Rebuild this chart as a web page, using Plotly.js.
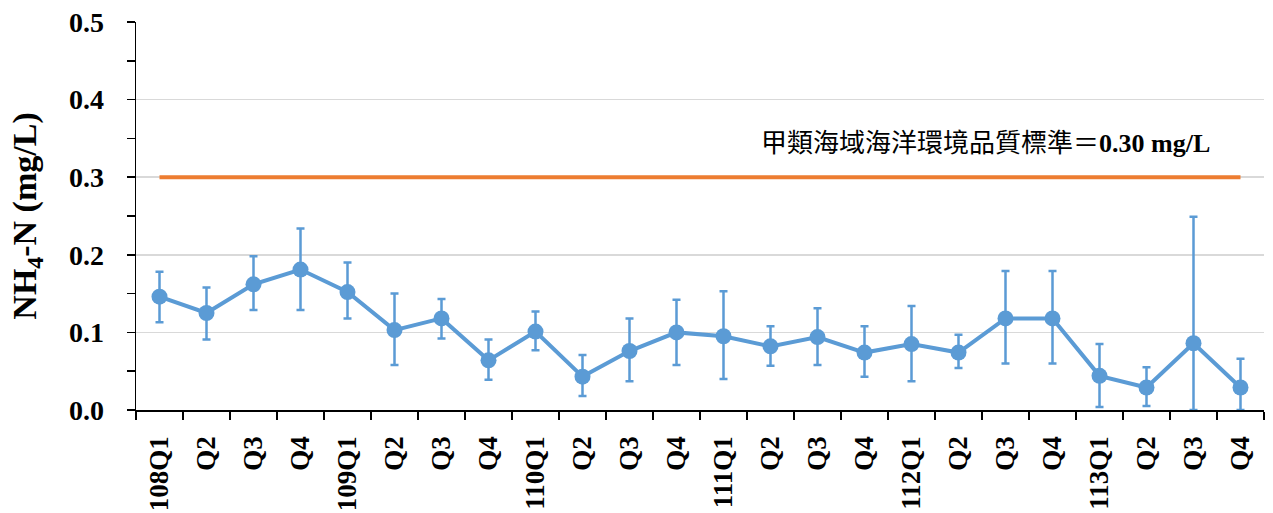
<!DOCTYPE html>
<html>
<head>
<meta charset="utf-8">
<script src="https://cdn.plot.ly/plotly-3.0.1.min.js"></script>
<style>
html,body{margin:0;padding:0;background:#fff;}
#chart{width:1273px;height:513px;}
</style>
</head>
<body>
<div id="chart"></div>
<script>
// ---- data ----
const tickLabels = ["108Q1","Q2","Q3","Q4","109Q1","Q2","Q3","Q4","110Q1","Q2","Q3","Q4",
                    "111Q1","Q2","Q3","Q4","112Q1","Q2","Q3","Q4","113Q1","Q2","Q3","Q4"];
const meanValues = [0.146,0.125,0.162,0.181,0.152,0.103,0.118,0.064,0.101,0.043,0.076,0.100,
                    0.095,0.082,0.094,0.074,0.085,0.074,0.118,0.118,0.044,0.029,0.086,0.029];
const upperValues = [0.178,0.158,0.198,0.234,0.190,0.150,0.143,0.091,0.127,0.071,0.118,0.142,
                     0.153,0.108,0.131,0.108,0.134,0.097,0.179,0.179,0.085,0.055,0.249,0.066];
const lowerValues = [0.113,0.091,0.129,0.129,0.118,0.058,0.092,0.039,0.077,0.018,0.037,0.058,
                     0.040,0.057,0.058,0.043,0.037,0.054,0.060,0.060,0.004,0.005,0.000,0.000];
const standardValue = 0.30;
const standardLabel = "甲類海域海洋環境品質標準＝<b>0.30 mg/L</b>";
const yTitle = "<b>NH<sub>4</sub>-N (mg/L)</b>";

// ---- build ----
const xIdx = tickLabels.map((_, i) => i);
const errPlus = upperValues.map((u, i) => u - meanValues[i]);
const errMinus = lowerValues.map((l, i) => meanValues[i] - l);
const boundaries = [];
for (let i = 0; i <= tickLabels.length; i++) boundaries.push(i - 0.5);

const blue = '#5B9BD5';
const orange = '#ED7D31';
const serif = '"Liberation Serif", "Times New Roman", "Noto Sans CJK TC", serif';

const traces = [
  {
    x: [xIdx[0], xIdx[xIdx.length - 1]],
    y: [standardValue, standardValue],
    mode: 'lines',
    line: {color: orange, width: 4},
    hoverinfo: 'skip',
    showlegend: false
  },
  {
    x: xIdx,
    y: meanValues,
    mode: 'lines+markers',
    line: {color: blue, width: 4},
    marker: {color: blue, size: 16},
    error_y: {type: 'data', symmetric: false, array: errPlus, arrayminus: errMinus,
              color: blue, thickness: 2.5, width: 4},
    showlegend: false
  }
];

const layout = {
  width: 1273, height: 513,
  margin: {l: 136, r: 9, t: 22, b: 103},
  paper_bgcolor: '#fff', plot_bgcolor: '#fff',
  font: {family: serif, color: '#000'},
  xaxis: {
    range: [-0.5, tickLabels.length - 0.5],
    tickmode: 'array', tickvals: xIdx, ticktext: tickLabels.map(t => '<b>' + t + '</b>'),
    tickangle: -90, ticks: '', showgrid: false, zeroline: false,
    showline: true, linecolor: '#000', linewidth: 1.5,
    tickfont: {family: serif, size: 27, color: '#000'},
    ticklabelstandoff: 14,
    minor: {tickmode: 'array', tickvals: boundaries, ticks: 'outside', ticklen: 8,
            tickcolor: '#000', tickwidth: 1.5, showgrid: false}
  },
  yaxis: {
    range: [0, 0.5], dtick: 0.1, tick0: 0, tickformat: '.1f',
    showline: true, linecolor: '#000', linewidth: 1.5,
    ticks: 'outside', ticklen: 8, tickcolor: '#000', tickwidth: 1.5,
    gridcolor: '#d9d9d9', gridwidth: 1.5, zeroline: false,
    tickfont: {family: serif, size: 28, color: '#000'},
    tickprefix: '<b>', ticksuffix: '</b>',
    ticklabelstandoff: 17,
    minor: {dtick: 0.05, ticks: 'outside', ticklen: 8, tickcolor: '#000', tickwidth: 1.5, showgrid: false},
    title: {text: yTitle, font: {family: serif, size: 34, color: '#000'}, standoff: 22}
  },
  annotations: [{
    xref: 'paper', yref: 'y', x: 0.753, y: 0.343,
    text: standardLabel, showarrow: false,
    font: {family: serif, size: 26, color: '#000'},
    xanchor: 'center', yanchor: 'middle'
  }]
};

Plotly.newPlot('chart', traces, layout, {displayModeBar: false, staticPlot: true});
</script>
</body>
</html>
